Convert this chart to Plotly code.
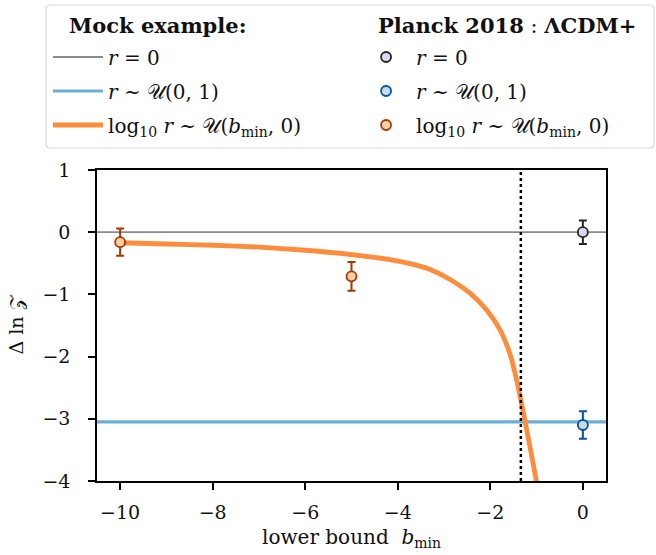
import plotly.graph_objects as go

# mock example curves
x_span = [-10.5, 0.5]
mock_r0 = [0.0, 0.0]
mock_uniform = [-3.05, -3.05]

bmin_curve = [-10.0, -9.0, -8.0, -7.0, -6.0, -5.0, -4.17, -3.6, -3.3, -2.87, -2.44,
              -2.08, -1.79, -1.57, -1.43, -1.28, -1.14, -1.01, -0.97]
dlnz_curve = [-0.17, -0.19, -0.21, -0.24, -0.29, -0.36, -0.44, -0.53, -0.60, -0.76, -0.98,
              -1.25, -1.57, -1.97, -2.38, -2.92, -3.46, -3.98, -4.15]

bmin_threshold = -1.34

# Planck 2018 results
planck_r0_x, planck_r0_y, planck_r0_err = [0.0], [0.0], [0.19]
planck_uni_x, planck_uni_y, planck_uni_err = [0.0], [-3.10], [0.22]
planck_log_x = [-10.0, -5.0]
planck_log_y = [-0.16, -0.71]
planck_log_err = [0.22, 0.23]

FONT = "DejaVu Serif"
lbl_r0 = "<i>r</i> = 0"
lbl_uni = "<i>r</i> ~ 𝒰(0, 1)"
lbl_log = "log<sub>10</sub> <i>r</i> ~ 𝒰(<i>b</i><sub>min</sub>, 0)"

fig = go.Figure()

fig.add_trace(go.Scatter(x=x_span, y=mock_r0, mode="lines", name=lbl_r0,
                         line=dict(color="#8a8a8a", width=1.8),
                         legend="legend", legendgroup="m1"))
fig.add_trace(go.Scatter(x=x_span, y=mock_uniform, mode="lines", name=lbl_uni,
                         line=dict(color="#6baed6", width=3.2),
                         legend="legend", legendgroup="m2"))
fig.add_trace(go.Scatter(x=bmin_curve, y=dlnz_curve, mode="lines", name=lbl_log,
                         line=dict(color="#fd8d3c", width=4.8, shape="spline", smoothing=0.6),
                         legend="legend", legendgroup="m3"))

# threshold line
fig.add_trace(go.Scatter(x=[bmin_threshold, bmin_threshold], y=[-4, 1], mode="lines",
                         line=dict(color="black", width=2.5, dash="dot"),
                         showlegend=False, hoverinfo="skip"))

def planck(x, y, err, name, fill, edge, grp):
    fig.add_trace(go.Scatter(
        x=x, y=y, mode="markers", name=name,
        marker=dict(size=10, color=fill, line=dict(color=edge, width=1.8)),
        error_y=dict(type="data", array=err, color=edge, thickness=2, width=4),
        legend="legend2", legendgroup=grp))

planck(planck_r0_x, planck_r0_y, planck_r0_err, lbl_r0, "#dadaeb", "#252525", "p1")
planck(planck_uni_x, planck_uni_y, planck_uni_err, lbl_uni, "#c6dbef", "#08519c", "p2")
planck(planck_log_x, planck_log_y, planck_log_err, lbl_log, "#fdd0a2", "#a63603", "p3")

axis_common = dict(showline=True, linecolor="black", linewidth=1.5, mirror=True,
                   ticks="outside", ticklen=7, tickwidth=1.5, tickcolor="black",
                   showgrid=False, zeroline=False,
                   tickfont=dict(family=FONT, size=19, color="#111"))

fig.update_xaxes(range=[-10.5, 0.5], tick0=0, dtick=2, ticklabelstandoff=6,
                 title=dict(text="lower bound  <i>b</i><sub>min</sub>", standoff=8,
                            font=dict(family=FONT, size=20, color="#111")),
                 **axis_common)
fig.update_yaxes(range=[-4, 1], tick0=0, dtick=1, ticklabelstandoff=14,
                 title=dict(text="Δ ln 𝒵", standoff=14,
                            font=dict(family=FONT, size=19, color="#111")),
                 **axis_common)

leg = dict(font=dict(family=FONT, size=20, color="#111"), bgcolor="rgba(0,0,0,0)",
           borderwidth=0, tracegroupgap=5, yanchor="top", xanchor="left",
           itemwidth=50)

# rounded legend frame in paper coordinates
fx0, fx1, fy0, fy1 = -0.1002, 1.0943, 1.0707, 1.5305
rx, ry = 4 / 509, 4 / 311
frame = (f"M{fx0 + rx},{fy1} L{fx1 - rx},{fy1} Q{fx1},{fy1} {fx1},{fy1 - ry} "
         f"L{fx1},{fy0 + ry} Q{fx1},{fy0} {fx1 - rx},{fy0} "
         f"L{fx0 + rx},{fy0} Q{fx0},{fy0} {fx0},{fy0 + ry} "
         f"L{fx0},{fy1 - ry} Q{fx0},{fy1} {fx0 + rx},{fy1} Z")

fig.update_layout(
    width=656, height=555,
    margin=dict(l=97, r=50, t=170, b=74, autoexpand=False),
    plot_bgcolor="white", paper_bgcolor="white",
    legend=dict(x=-0.0963, y=1.426, **leg),
    legend2=dict(x=0.509, y=1.426, **leg),
    shapes=[dict(type="path", path=frame, xref="paper", yref="paper",
                 line=dict(color="#d9d9d9", width=1.2))],
    annotations=[
        dict(text="<b>Mock example:</b>", xref="paper", yref="paper",
             x=-0.059, y=1.466, xanchor="left", yanchor="middle", showarrow=False,
             font=dict(family=FONT, size=21, color="#111")),
        dict(text="<b>Planck 2018</b> : <b>ΛCDM+</b>", xref="paper", yref="paper",
             x=0.548, y=1.466, xanchor="left", yanchor="middle", showarrow=False,
             font=dict(family=FONT, size=21, color="#111")),
    ],
)

# page body has a default 8px margin; drop it so the figure sits at the window origin
fig.write_html("out.html", config={"displayModeBar": False},
               post_script="document.body.style.margin='0';")
